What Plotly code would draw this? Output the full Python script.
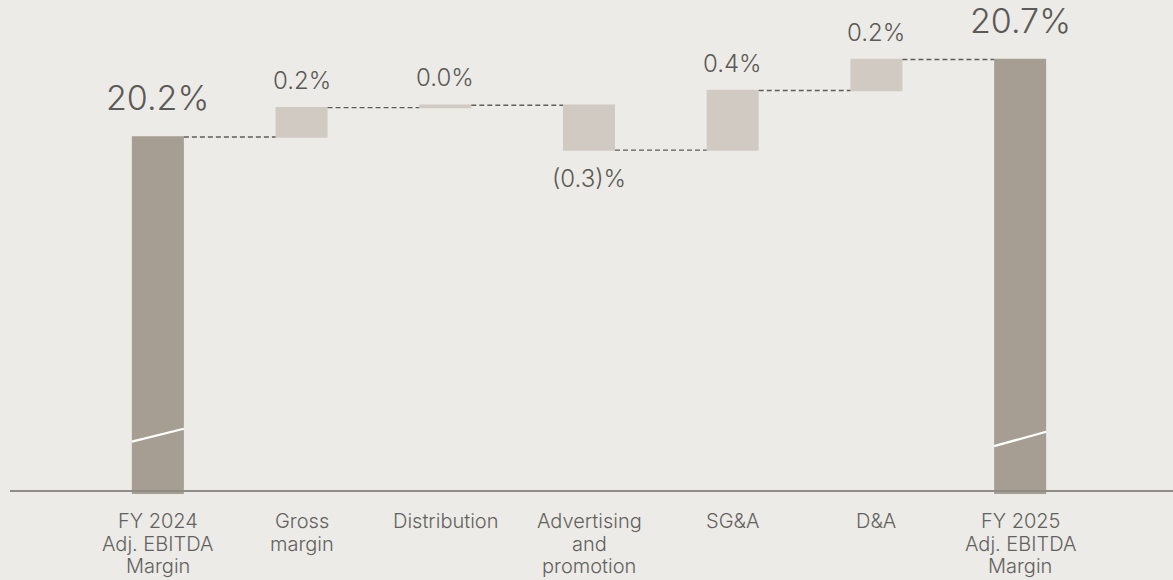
import plotly.graph_objects as go

# ---- data ----
categories = ["FY 2024<br>Adj. EBITDA<br>Margin", "Gross<br>margin", "Distribution",
              "Advertising<br>and<br>promotion", "SG&A", "D&A",
              "FY 2025<br>Adj. EBITDA<br>Margin"]
measures = ["absolute", "relative", "relative", "relative", "relative", "relative", "total"]
values = [20.2, 0.19, 0.015, -0.29, 0.385, 0.20, 0]
labels = ["20.2%", "0.2%", "0.0%", "(0.3)%", "0.4%", "0.2%", "20.7%"]

# ---- style ----
BG = "#EDEBE7"
TOTAL_C = "#A69E92"
DELTA_C = "#D1CAC3"
TXT = "#5A5A56"
FONT = "Inter"
WEIGHT = 350

Y_MIN, Y_MAX = 17.897, 21.084
W, H = 1173, 580
ML, MR, MT, MB = 86, 81, 0, 86
PLOT_H = H - MT - MB

fig = go.Figure(go.Waterfall(
    x=list(range(len(categories))), y=values, measure=measures,
    width=0.362,
    totals=dict(marker=dict(color=TOTAL_C)),
    increasing=dict(marker=dict(color=DELTA_C)),
    decreasing=dict(marker=dict(color=DELTA_C)),
    connector=dict(mode="between", line=dict(color="#5E5E5A", width=1.3, dash="5px,3px")),
    hoverinfo="skip",
))

# cumulative levels for labels
levels = []
cum = 0.0
for m, v in zip(measures, values):
    if m == "absolute":
        start, cum = 0.0, v
    elif m == "total":
        start = 0.0
    else:
        start, cum = cum, cum + v
    levels.append((start, cum))

for i, (m, v, lab) in enumerate(zip(measures, values, labels)):
    start, end = levels[i]
    is_total = m in ("absolute", "total")
    top = max(start, end)
    bottom = min(start, end)
    if is_total:
        fig.add_annotation(x=i, y=end, text=lab, showarrow=False, yanchor="bottom",
                           yshift=17, font=dict(size=34, color=TXT, family=FONT, weight=WEIGHT))
    elif v >= 0:
        fig.add_annotation(x=i, y=top, text=lab, showarrow=False, yanchor="bottom",
                           yshift=11, font=dict(size=24, color=TXT, family=FONT, weight=WEIGHT))
    else:
        fig.add_annotation(x=i, y=bottom, text=lab, showarrow=False, yanchor="top",
                           yshift=-12, font=dict(size=24, color=TXT, family=FONT, weight=WEIGHT))

# category labels, one annotation per line for tight line spacing
for i, cat in enumerate(categories):
    for k, line in enumerate(cat.split("<br>")):
        fig.add_annotation(x=i, xref="x", y=0, yref="paper", text=line, showarrow=False,
                           yanchor="middle", yshift=-(27 + 22.5 * k), borderpad=0,
                           font=dict(size=20, color="#62625E", family=FONT, weight=WEIGHT))

# axis-break marks on total bars
span = Y_MAX - Y_MIN
breaks = {0: (0.106, 0.132), 6: (0.097, 0.126)}
for i, (a, b) in breaks.items():
    fig.add_shape(type="line", xref="x", yref="y",
                  x0=i - 0.181, x1=i + 0.181,
                  y0=Y_MIN + a * span, y1=Y_MIN + b * span,
                  line=dict(color="white", width=2.2))

# baseline
plot_w = W - ML - MR
fig.add_shape(type="line", xref="paper", yref="paper",
              x0=(10 - ML) / plot_w, x1=(W - ML) / plot_w,
              y0=3 / PLOT_H, y1=3 / PLOT_H,
              line=dict(color="#8E8C84", width=2))

fig.update_layout(
    width=W, height=H,
    margin=dict(l=ML, r=MR, t=MT, b=MB),
    paper_bgcolor=BG, plot_bgcolor=BG,
    showlegend=False,
    font=dict(family=FONT, color=TXT),
    xaxis=dict(showgrid=False, showline=False, zeroline=False, ticks="",
               showticklabels=False, range=[-0.5, len(categories) - 0.5], fixedrange=True),
    yaxis=dict(visible=False, range=[Y_MIN, Y_MAX], fixedrange=True),
)

fig.write_html("out.html", config={"displayModeBar": False},
               post_script="document.body.style.margin='0';document.body.style.background='%s';" % BG)
